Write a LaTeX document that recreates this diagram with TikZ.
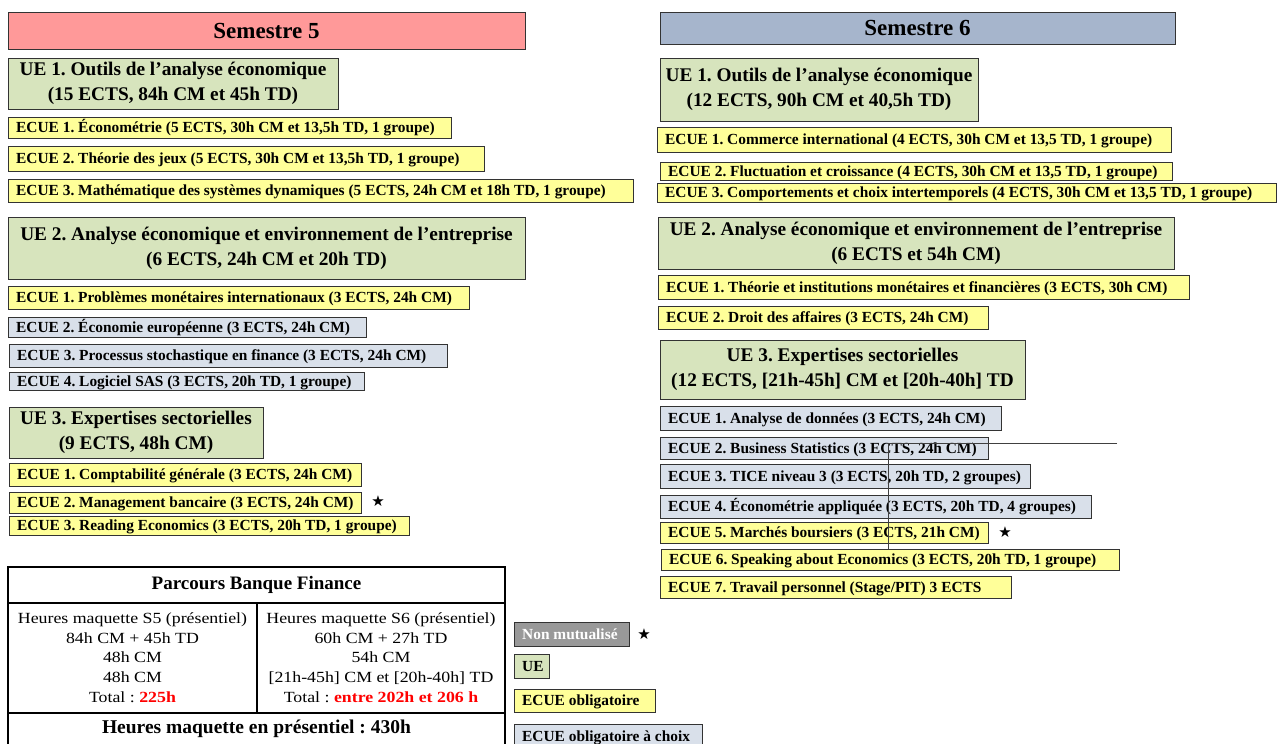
\documentclass[tikz,border=0pt]{standalone}
\usepackage{fontspec}
\setmainfont{Liberation Serif}
\newfontfamily\tabfont[FakeStretch=1.15]{Liberation Serif}
\newfontfamily\symfont{DejaVu Sans}
\frenchspacing

\definecolor{semA}{HTML}{FF9999}
\definecolor{semB}{HTML}{A6B5CC}
\definecolor{ueGreen}{HTML}{D7E4BD}
\definecolor{oblYellow}{HTML}{FFFF99}
\definecolor{choixBlue}{HTML}{D9E0EA}
\definecolor{nonMut}{HTML}{999999}
\definecolor{edge}{HTML}{333333}
\definecolor{totalRed}{HTML}{FF0000}

% box with its top-left corner at (x1,y1) and bottom-right at (x2,y2), label left-aligned
% #1 name, #2 fill, #3 x1, #4 y1, #5 x2, #6 y2, #7 text
\newcommand\leftbox[7]{%
  \node[frame, fill=#2, minimum width={#5-#3}, minimum height={#6-#4}] (#1) at (#3,#4) {};
  \node[lbl] (#1-t) at ([xshift=8pt]#1.west) {#7};}
% same, label centred (UE and semester headers)
% #1 name, #2 fill, #3 label style, #4 x1, #5 y1, #6 x2, #7 y2, #8 text
\newcommand\midbox[8]{%
  \node[frame, fill=#2, minimum width={#6-#4}, minimum height={#7-#5}] (#1) at (#4,#5) {};
  \node[#3] (#1-t) at (#1.center) {#8};}

\begin{document}
\begin{tikzpicture}[x=1pt, y=-1pt,
  frame/.style={draw=edge, line width=1pt, inner sep=0pt, outer sep=0pt, anchor=north west},
  lbl/.style={anchor=west, inner sep=0pt, font=\fontsize{15.4}{18}\selectfont\bfseries,
              text height=13pt, text depth=3pt},
  semlbl/.style={inner sep=0pt, font=\fontsize{23}{26}\selectfont\bfseries},
  uelbl/.style={inner sep=0pt, align=center, font=\fontsize{19.3}{25}\selectfont\bfseries},
  star/.style={inner sep=0pt, font=\symfont\fontsize{15}{15}\selectfont},
  tabline/.style={line width=2.6pt, draw=black},
  celltext/.style={inner sep=0pt, align=center, font=\tabfont\fontsize{15.5}{19.75}\selectfont},
  tabhead/.style={inner sep=0pt, font=\fontsize{19}{22}\selectfont\bfseries},
  stray/.style={draw=black!75, line width=0.9pt}]
\useasboundingbox (0,0) rectangle (1278,744);

% ---------------- Semestre 5 ----------------
\midbox{s5}{semA}{semlbl}{8}{12}{525}{49}{Semestre 5}

\midbox{s5-ue1}{ueGreen}{uelbl}{8}{58}{338}{109}{UE 1. Outils de l’analyse économique\\(15 ECTS, 84h CM et 45h TD)}
\leftbox{s5-ue1-e1}{oblYellow}{8}{117}{451}{138}{ECUE 1. Économétrie (5 ECTS, 30h CM et 13,5h TD, 1 groupe)}
\leftbox{s5-ue1-e2}{oblYellow}{8}{146}{484}{171}{ECUE 2. Théorie des jeux (5 ECTS, 30h CM et 13,5h TD, 1 groupe)}
\leftbox{s5-ue1-e3}{oblYellow}{8}{179}{633}{202}{ECUE 3. Mathématique des systèmes dynamiques (5 ECTS, 24h CM et 18h TD, 1 groupe)}

\midbox{s5-ue2}{ueGreen}{uelbl}{8}{217}{525}{279}{UE 2. Analyse économique et environnement de l’entreprise\\(6 ECTS, 24h CM et 20h TD)}
\leftbox{s5-ue2-e1}{oblYellow}{8}{286}{469}{309}{ECUE 1. Problèmes monétaires internationaux (3 ECTS, 24h CM)}
\leftbox{s5-ue2-e2}{choixBlue}{8}{317}{366}{337}{ECUE 2. Économie européenne (3 ECTS, 24h CM)}
\leftbox{s5-ue2-e3}{choixBlue}{9}{344}{447}{367}{ECUE 3. Processus stochastique en finance (3 ECTS, 24h CM)}
\leftbox{s5-ue2-e4}{choixBlue}{9}{372}{364}{390}{ECUE 4. Logiciel SAS (3 ECTS, 20h TD, 1 groupe)}

\midbox{s5-ue3}{ueGreen}{uelbl}{9}{407}{263}{458}{UE 3. Expertises sectorielles\\(9 ECTS, 48h CM)}
\leftbox{s5-ue3-e1}{oblYellow}{9}{463}{361}{486}{ECUE 1. Comptabilité générale (3 ECTS, 24h CM)}
\leftbox{s5-ue3-e2}{oblYellow}{9}{492}{361}{513}{ECUE 2. Management bancaire (3 ECTS, 24h CM)}
\leftbox{s5-ue3-e3}{oblYellow}{9}{516}{409}{535}{ECUE 3. Reading Economics (3 ECTS, 20h TD, 1 groupe)}
\node[star] (s5-star) at (378,501) {★};

% ---------------- Semestre 6 ----------------
\midbox{s6}{semB}{semlbl}{660}{12}{1175}{44}{Semestre 6}

\midbox{s6-ue1}{ueGreen}{uelbl}{660}{58}{978}{121}{UE 1. Outils de l’analyse économique\\(12 ECTS, 90h CM et 40,5h TD)}
\leftbox{s6-ue1-e1}{oblYellow}{657}{127}{1171}{152}{ECUE 1. Commerce international (4 ECTS, 30h CM et 13,5 TD, 1 groupe)}
\leftbox{s6-ue1-e2}{oblYellow}{660}{162}{1172}{180}{ECUE 2. Fluctuation et croissance (4 ECTS, 30h CM et 13,5 TD, 1 groupe)}
\leftbox{s6-ue1-e3}{oblYellow}{657}{183}{1276}{202}{ECUE 3. Comportements et choix intertemporels (4 ECTS, 30h CM et 13,5 TD, 1 groupe)}

\midbox{s6-ue2}{ueGreen}{uelbl}{658}{217}{1174}{269}{UE 2. Analyse économique et environnement de l’entreprise\\(6 ECTS et 54h CM)}
\leftbox{s6-ue2-e1}{oblYellow}{658}{275}{1189}{299}{ECUE 1. Théorie et institutions monétaires et financières (3 ECTS, 30h CM)}
\leftbox{s6-ue2-e2}{oblYellow}{658}{306}{988}{329}{ECUE 2. Droit des affaires (3 ECTS, 24h CM)}

\midbox{s6-ue3}{ueGreen}{uelbl}{660}{340}{1025}{399}{UE 3. Expertises sectorielles\\(12 ECTS, [21h-45h] CM et [20h-40h] TD}
\leftbox{s6-ue3-e1}{choixBlue}{660}{406}{1001}{430}{ECUE 1. Analyse de données (3 ECTS, 24h CM)}
\leftbox{s6-ue3-e2}{choixBlue}{660}{437}{988}{459}{ECUE 2. Business Statistics (3 ECTS, 24h CM)}
\leftbox{s6-ue3-e3}{choixBlue}{660}{464}{1030}{488}{ECUE 3. TICE niveau 3 (3 ECTS, 20h TD, 2 groupes)}
\leftbox{s6-ue3-e4}{choixBlue}{660}{495}{1091}{518}{ECUE 4. Économétrie appliquée (3 ECTS, 20h TD, 4 groupes)}
\leftbox{s6-ue3-e5}{oblYellow}{660}{522}{988}{543}{ECUE 5. Marchés boursiers (3 ECTS, 21h CM)}
\leftbox{s6-ue3-e6}{oblYellow}{661}{549}{1119}{570}{ECUE 6. Speaking about Economics (3 ECTS, 20h TD, 1 groupe)}
\leftbox{s6-ue3-e7}{oblYellow}{660}{576}{1011}{598}{ECUE 7. Travail personnel (Stage/PIT) 3 ECTS}
\node[star] (s6-star) at (1005,532) {★};

% loose line over the S6 list
\coordinate (stray-a) at (1117,443);
\coordinate (stray-b) at (888,443);
\coordinate (stray-c) at (888,549);
\draw[stray] (stray-a) -- (stray-b) -- (stray-c);

% ---------------- hours table ----------------
\draw[tabline] (8,567) rectangle (505,760);
\draw[tabline] (8,603) -- (505,603);
\draw[tabline] (8,713) -- (505,713);
\draw[tabline] (257,603) -- (257,713);
\node[tabhead] (tab-title) at (256.5,585) {Parcours Banque Finance};
\node[celltext] (tab-s5) at (132.5,657.5) {Heures maquette S5 (présentiel)\\84h CM + 45h TD\\48h CM\\48h CM\\Total : {\bfseries\color{totalRed}225h}};
\node[celltext] (tab-s6) at (381,657.5) {Heures maquette S6 (présentiel)\\60h CM + 27h TD\\54h CM\\{[21h-45h]} CM et [20h-40h] TD\\Total : {\bfseries\color{totalRed}entre 202h et 206 h}};
\node[tabhead, font=\fontsize{19.5}{22}\selectfont\bfseries] (tab-total) at (256.5,729) {Heures maquette en présentiel : 430h};

% ---------------- legend ----------------
\leftbox{leg-nonmut}{nonMut}{514}{622}{629}{646}{\color{white}Non mutualisé}
\node[star] (leg-star) at (644,634) {★};
\leftbox{leg-ue}{ueGreen}{514}{654}{549}{678}{UE}
\leftbox{leg-obl}{oblYellow}{514}{689}{655}{712}{ECUE obligatoire}
\leftbox{leg-choix}{choixBlue}{514}{724}{702}{749}{ECUE obligatoire à choix}
\end{tikzpicture}
\end{document}
